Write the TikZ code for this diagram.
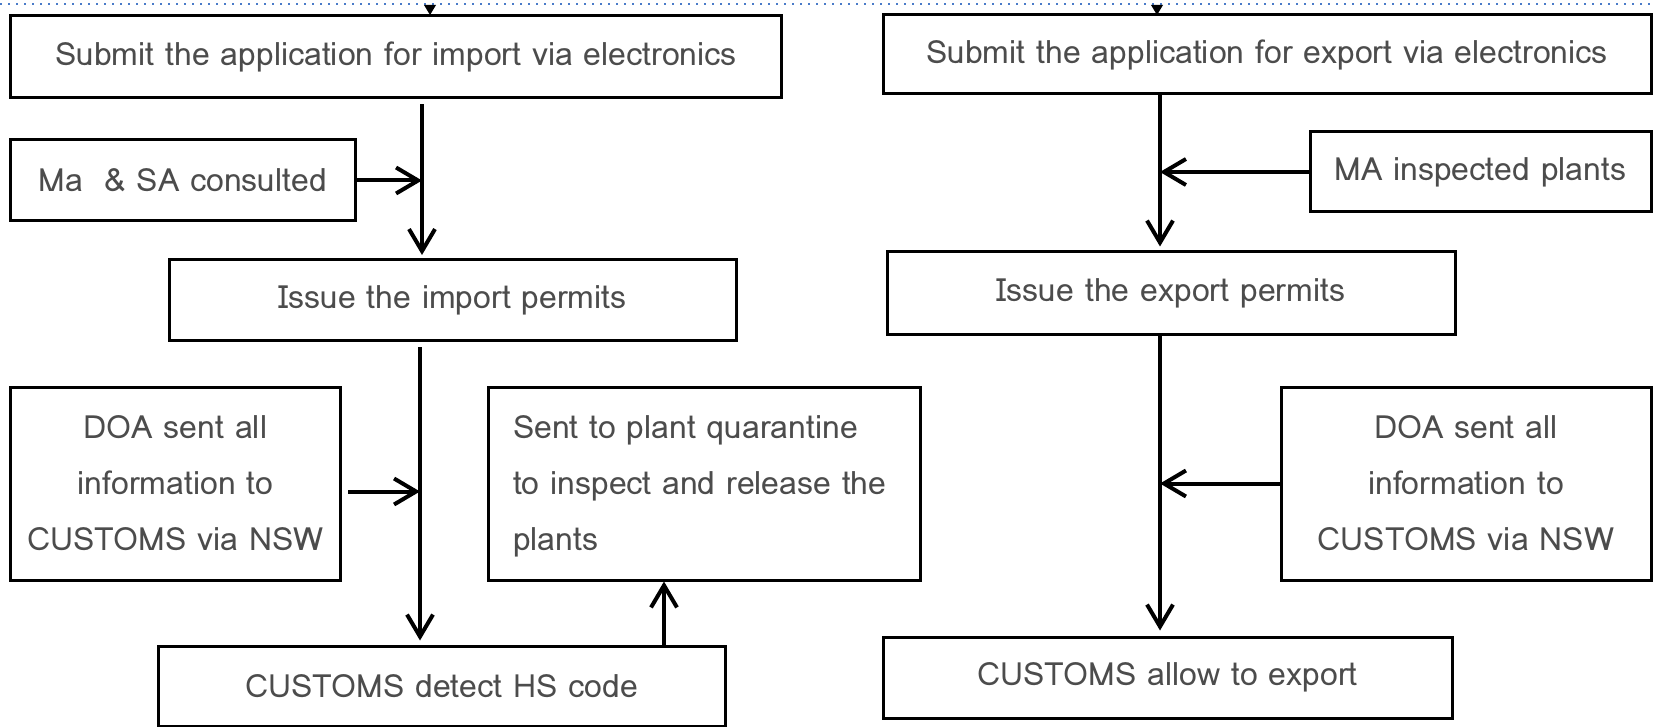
\documentclass[tikz,border=0pt]{standalone}
\usepackage{fontspec}
\setmainfont{Loma}
\usetikzlibrary{arrows.meta,calc}
\begin{document}
\begin{tikzpicture}[x=0.5pt,y=-0.5pt,
  box/.style={draw=black, line width=1.5pt, fill=white, font=\fontsize{16}{28}\selectfont, text=black!70, inner sep=0pt, align=center},
  arr/.style={-{Straight Barb[length=11pt,width=13pt]}, line width=2pt},
  dotline/.style={draw={rgb,255:red,74;green,123;blue,200}, line width=1pt, dash pattern=on 1pt off 3pt}]
\useasboundingbox (0,0) rectangle (1653,727);
% top dotted line and marks
\draw[dotline] (0,4) -- (1653,4);
\fill (424,5) -- (436,5) -- (430,15) -- cycle;
\fill (1151,5) -- (1163,5) -- (1157,15) -- cycle;
% left column
\node[box, minimum width=385.5pt, minimum height=41pt] (A) at (396,57) {Submit the application for import via electronics};
\node[box, minimum width=172.5pt, minimum height=40.5pt] (B) at (183,180.5) {Ma\ \ \& SA consulted};
\node[box, minimum width=283.5pt, minimum height=40.5pt] (C) at (452.5,300) {Issue the import permits};
\node[box, minimum width=165pt, minimum height=96.5pt] (D) at (175.5,483.5) {DOA sent all\\information to\\CUSTOMS via NSW};
\node[box, minimum width=216pt, minimum height=96.5pt, text width=191pt, align=left] (E) at (704,483.5) {\raisebox{-3pt}{\begin{tabular}{@{}l@{}}Sent to plant quarantine\\to inspect and release the\\plants\end{tabular}}};
\node[box, minimum width=283.5pt, minimum height=40pt] (F) at (441.5,686) {CUSTOMS detect HS code};
% right column
\node[box, minimum width=384pt, minimum height=39.5pt] (G) at (1267,54.5) {Submit the application for export via electronics};
\node[box, minimum width=170.5pt, minimum height=40pt] (H) at (1480.5,172) {MA inspected plants};
\node[box, minimum width=284pt, minimum height=41pt] (I) at (1171,293) {Issue the export permits};
\node[box, minimum width=185pt, minimum height=96.5pt] (J) at (1466,483.5) {DOA sent all\\information to\\CUSTOMS via NSW};
\node[box, minimum width=284.5pt, minimum height=40.5pt] (K) at (1167.5,677.5) {CUSTOMS allow to export};
% connectors
\coordinate (lx) at (422,0);
\coordinate (lx2) at (420,0);
\coordinate (ex) at (664,0);
\coordinate (rx) at (1160,0);
\coordinate (dA) at ($(D.east)+(6,8)$);
\draw[arr, shorten <=2.5pt, shorten >=1.5pt] (A.south -| lx) -- (C.north -| lx);
\draw[arr] (B.east) -- (B.east -| lx);
\draw[arr, shorten <=2.5pt, shorten >=2pt] (C.south -| lx2) -- (F.north -| lx2);
\draw[arr] (dA) -- (dA -| lx2);
\draw[arr] (F.north -| ex) -- (E.south -| ex);
\draw[arr, shorten >=2pt] (G.south -| rx) -- (I.north -| rx);
\draw[arr] (H.west) -- (H.west -| rx);
\draw[arr, shorten >=2.5pt] (I.south -| rx) -- (K.north -| rx);
\draw[arr] (J.west) -- (J.west -| rx);
\end{tikzpicture}
\end{document}
